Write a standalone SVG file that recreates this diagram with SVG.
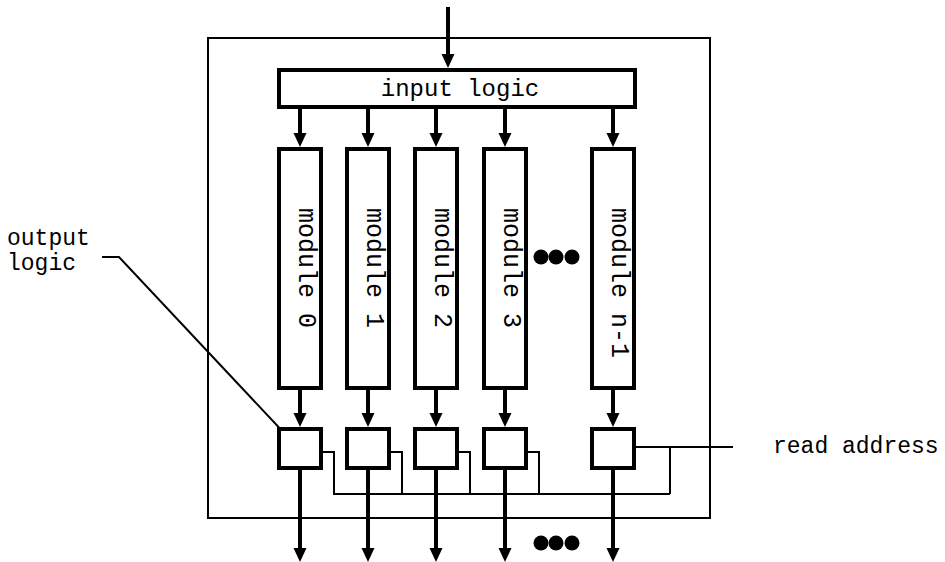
<svg xmlns="http://www.w3.org/2000/svg" xmlns:xlink="http://www.w3.org/1999/xlink" width="945" height="562" viewBox="0 0 945 562">
<style>
.thick{fill:#fff;stroke:#000;stroke-width:4}
.thin{fill:none;stroke:#000;stroke-width:2}
.wire{fill:none;stroke:#000;stroke-width:4}
.lbl{font-family:"Liberation Mono","Courier New",monospace;font-size:25px;fill:#000}
.sm{font-size:23px}
.dot{fill:#000}
</style>
<defs>
<path id="ah" d="M-6.5,-14 L6.5,-14 L0,0 Z" fill="#000"/>
<marker id="sm" markerUnits="userSpaceOnUse" markerWidth="16" markerHeight="14" refX="13" refY="6" orient="auto">
<path d="M0,0 L14,6 L0,12 Z" fill="#000"/>
</marker>
</defs>
<rect x="0" y="0" width="945" height="562" fill="#fff"/>
<g id="outer"><rect x="208" y="38" width="502" height="480" class="thin"/></g>
<g id="connectors">
<line x1="448" y1="7" x2="448" y2="56" class="wire"/><use xlink:href="#ah" x="448" y="68"/>
<line x1="300" y1="109" x2="300" y2="135" class="wire"/><use xlink:href="#ah" x="300" y="147"/>
<line x1="368" y1="109" x2="368" y2="135" class="wire"/><use xlink:href="#ah" x="368" y="147"/>
<line x1="436" y1="109" x2="436" y2="135" class="wire"/><use xlink:href="#ah" x="436" y="147"/>
<line x1="505" y1="109" x2="505" y2="135" class="wire"/><use xlink:href="#ah" x="505" y="147"/>
<line x1="613" y1="109" x2="613" y2="135" class="wire"/><use xlink:href="#ah" x="613" y="147"/>
<line x1="300" y1="390" x2="300" y2="415" class="wire"/><use xlink:href="#ah" x="300" y="427"/>
<line x1="368" y1="390" x2="368" y2="415" class="wire"/><use xlink:href="#ah" x="368" y="427"/>
<line x1="436" y1="390" x2="436" y2="415" class="wire"/><use xlink:href="#ah" x="436" y="427"/>
<line x1="505" y1="390" x2="505" y2="415" class="wire"/><use xlink:href="#ah" x="505" y="427"/>
<line x1="613" y1="390" x2="613" y2="415" class="wire"/><use xlink:href="#ah" x="613" y="427"/>
<line x1="300" y1="470" x2="300" y2="550" class="wire"/><use xlink:href="#ah" x="300" y="562"/>
<line x1="368" y1="470" x2="368" y2="550" class="wire"/><use xlink:href="#ah" x="368" y="562"/>
<line x1="436" y1="470" x2="436" y2="550" class="wire"/><use xlink:href="#ah" x="436" y="562"/>
<line x1="505" y1="470" x2="505" y2="550" class="wire"/><use xlink:href="#ah" x="505" y="562"/>
<line x1="613" y1="470" x2="613" y2="550" class="wire"/><use xlink:href="#ah" x="613" y="562"/>
<path d="M323,452 H334 V494 H670 M391,452 H402 V494 M459,452 H470 V494 M528,452 H539 V494 M636,447 H733 M670,447 V494" class="thin"/>
<path d="M102,257 H119 L302,452" class="thin" marker-end="url(#sm)"/>
</g>
<g id="input-logic">
<rect x="279" y="70" width="356" height="37" class="thick"/>
<text x="460" y="96" text-anchor="middle" class="lbl" style="font-size:24px">input logic</text>
</g>
<g id="module-0"><rect x="279" y="149" width="42" height="239" class="thick"/><text class="lbl" transform="translate(299,208) rotate(90)">module 0</text></g>
<g id="module-1"><rect x="347" y="149" width="42" height="239" class="thick"/><text class="lbl" transform="translate(367,208) rotate(90)">module 1</text></g>
<g id="module-2"><rect x="415" y="149" width="42" height="239" class="thick"/><text class="lbl" transform="translate(435,208) rotate(90)">module 2</text></g>
<g id="module-3"><rect x="484" y="149" width="42" height="239" class="thick"/><text class="lbl" transform="translate(504,208) rotate(90)">module 3</text></g>
<g id="module-n-1"><rect x="592" y="149" width="42" height="239" class="thick"/><text class="lbl" transform="translate(612,208) rotate(90)">module n-1</text></g>
<g id="dots-top"><circle cx="541" cy="257" r="7.5" class="dot"/><circle cx="556" cy="257" r="7.5" class="dot"/><circle cx="572" cy="257" r="7.5" class="dot"/></g>
<g id="out-0"><rect x="279" y="429" width="42" height="39" class="thick"/></g>
<g id="out-1"><rect x="347" y="429" width="42" height="39" class="thick"/></g>
<g id="out-2"><rect x="415" y="429" width="42" height="39" class="thick"/></g>
<g id="out-3"><rect x="484" y="429" width="42" height="39" class="thick"/></g>
<g id="out-n-1"><rect x="592" y="429" width="42" height="39" class="thick"/></g>
<g id="dots-bottom"><circle cx="541" cy="543" r="7.5" class="dot"/><circle cx="556" cy="543" r="7.5" class="dot"/><circle cx="572" cy="543" r="7.5" class="dot"/></g>
<g id="output-logic-label"><text x="7" y="245" class="lbl sm">output</text><text x="7" y="270" class="lbl sm">logic</text></g>
<g id="read-address-label"><text x="773" y="453" class="lbl sm">read address</text></g>
</svg>
